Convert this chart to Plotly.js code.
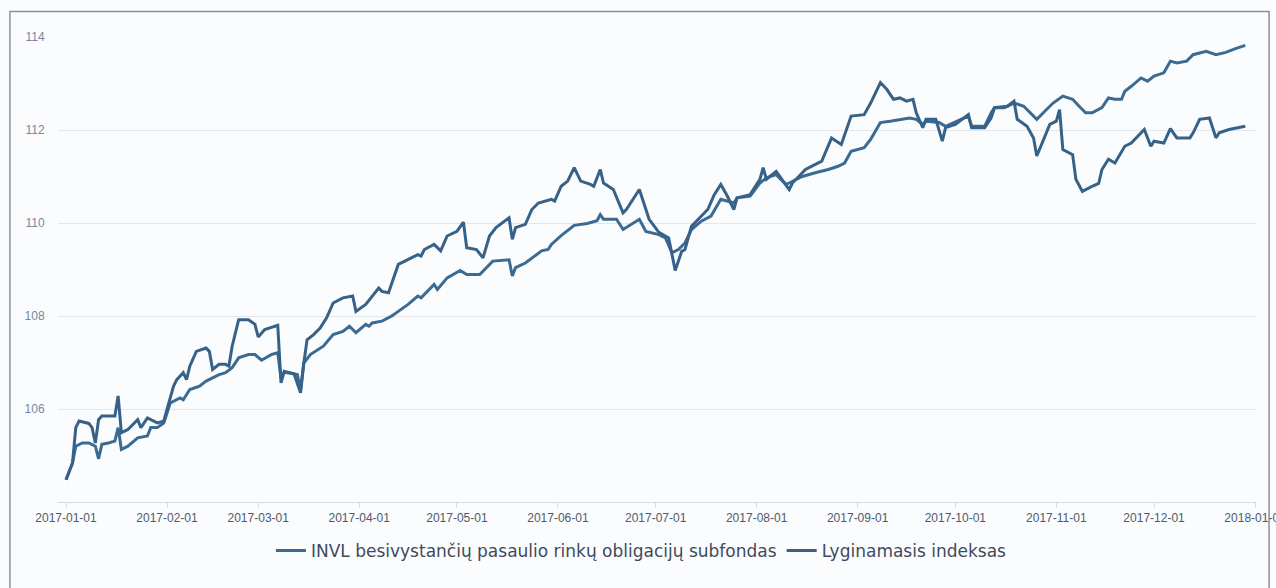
<!DOCTYPE html>
<html>
<head>
<meta charset="utf-8">
<script src="https://cdn.plot.ly/plotly-3.0.1.min.js"></script>
<style>
html,body{margin:0;padding:0;background:#fbfcfd;}
#chart{width:1276px;height:588px;}
</style>
</head>
<body>
<div id="chart"></div>
<script>
// INVL besivystančių pasaulio rinkų obligacijų subfondas
const fundDates = ["2017-01-01","2017-01-03","2017-01-04","2017-01-06","2017-01-08","2017-01-10","2017-01-11","2017-01-12","2017-01-14","2017-01-16","2017-01-17","2017-01-18","2017-01-20","2017-01-23","2017-01-26","2017-01-27","2017-01-29","2017-01-31","2017-02-02","2017-02-05","2017-02-06","2017-02-08","2017-02-11","2017-02-13","2017-02-15","2017-02-17","2017-02-19","2017-02-21","2017-02-23","2017-02-26","2017-02-28","2017-03-02","2017-03-05","2017-03-07","2017-03-08","2017-03-09","2017-03-13","2017-03-14","2017-03-15","2017-03-17","2017-03-21","2017-03-24","2017-03-27","2017-03-29","2017-03-31","2017-04-03","2017-04-04","2017-04-05","2017-04-08","2017-04-11","2017-04-13","2017-04-16","2017-04-19","2017-04-20","2017-04-24","2017-04-25","2017-04-28","2017-05-02","2017-05-04","2017-05-08","2017-05-12","2017-05-17","2017-05-18","2017-05-19","2017-05-22","2017-05-27","2017-05-29","2017-05-30","2017-06-02","2017-06-06","2017-06-10","2017-06-13","2017-06-14","2017-06-15","2017-06-19","2017-06-21","2017-06-26","2017-06-28","2017-07-02","2017-07-04","2017-07-06","2017-07-08","2017-07-10","2017-07-12","2017-07-15","2017-07-18","2017-07-21","2017-07-25","2017-07-26","2017-07-30","2017-08-02","2017-08-04","2017-08-07","2017-08-10","2017-08-11","2017-08-15","2017-08-19","2017-08-23","2017-08-26","2017-08-28","2017-08-30","2017-09-03","2017-09-05","2017-09-08","2017-09-11","2017-09-14","2017-09-17","2017-09-19","2017-09-21","2017-09-22","2017-09-26","2017-09-28","2017-10-05","2017-10-06","2017-10-10","2017-10-12","2017-10-13","2017-10-16","2017-10-19","2017-10-22","2017-10-26","2017-10-29","2017-10-31","2017-11-03","2017-11-06","2017-11-08","2017-11-10","2017-11-12","2017-11-15","2017-11-17","2017-11-19","2017-11-21","2017-11-22","2017-11-24","2017-11-27","2017-11-29","2017-12-01","2017-12-04","2017-12-06","2017-12-08","2017-12-11","2017-12-13","2017-12-17","2017-12-20","2017-12-23","2017-12-26","2017-12-29"];
const fundValues = [104.48,104.84,105.20,105.27,105.27,105.20,104.93,105.24,105.27,105.31,105.60,105.13,105.20,105.38,105.42,105.60,105.60,105.70,106.13,106.24,106.20,106.42,106.49,106.60,106.67,106.74,106.78,106.89,107.10,107.17,107.17,107.05,107.17,107.21,106.67,106.79,106.74,106.42,106.99,107.17,107.35,107.60,107.67,107.78,107.64,107.82,107.78,107.85,107.89,108.00,108.10,108.25,108.43,108.39,108.68,108.57,108.82,108.98,108.89,108.89,109.18,109.21,108.86,109.04,109.14,109.40,109.43,109.54,109.73,109.95,109.99,110.05,110.18,110.08,110.08,109.86,110.08,109.82,109.75,109.68,109.36,109.43,109.57,109.86,110.04,110.15,110.51,110.43,110.54,110.58,110.86,110.97,111.04,110.83,110.86,111.00,111.08,111.15,111.22,111.29,111.54,111.62,111.80,112.16,112.19,112.23,112.26,112.23,112.12,112.19,112.16,112.08,112.30,112.08,112.08,112.37,112.48,112.48,112.58,112.51,112.23,112.44,112.58,112.73,112.66,112.51,112.37,112.37,112.48,112.69,112.66,112.66,112.83,112.94,113.12,113.05,113.16,113.23,113.48,113.44,113.48,113.62,113.69,113.62,113.67,113.75,113.82];

// Lyginamasis indeksas
const indexDates = ["2017-01-01","2017-01-03","2017-01-04","2017-01-05","2017-01-08","2017-01-09","2017-01-10","2017-01-11","2017-01-12","2017-01-16","2017-01-17","2017-01-18","2017-01-20","2017-01-23","2017-01-24","2017-01-26","2017-01-29","2017-01-31","2017-02-01","2017-02-03","2017-02-04","2017-02-06","2017-02-07","2017-02-08","2017-02-10","2017-02-13","2017-02-14","2017-02-15","2017-02-17","2017-02-19","2017-02-20","2017-02-21","2017-02-23","2017-02-26","2017-02-28","2017-03-01","2017-03-03","2017-03-07","2017-03-08","2017-03-09","2017-03-12","2017-03-14","2017-03-15","2017-03-16","2017-03-18","2017-03-20","2017-03-22","2017-03-24","2017-03-27","2017-03-30","2017-03-31","2017-04-03","2017-04-07","2017-04-08","2017-04-10","2017-04-13","2017-04-17","2017-04-19","2017-04-20","2017-04-21","2017-04-24","2017-04-26","2017-04-28","2017-05-01","2017-05-03","2017-05-04","2017-05-07","2017-05-09","2017-05-11","2017-05-13","2017-05-17","2017-05-18","2017-05-19","2017-05-22","2017-05-24","2017-05-26","2017-05-30","2017-05-31","2017-06-02","2017-06-04","2017-06-06","2017-06-08","2017-06-11","2017-06-12","2017-06-14","2017-06-15","2017-06-18","2017-06-21","2017-06-22","2017-06-26","2017-06-29","2017-07-02","2017-07-05","2017-07-07","2017-07-09","2017-07-10","2017-07-12","2017-07-15","2017-07-17","2017-07-19","2017-07-21","2017-07-23","2017-07-25","2017-07-26","2017-07-30","2017-08-02","2017-08-03","2017-08-04","2017-08-07","2017-08-11","2017-08-12","2017-08-16","2017-08-19","2017-08-21","2017-08-24","2017-08-27","2017-08-30","2017-09-03","2017-09-05","2017-09-08","2017-09-10","2017-09-12","2017-09-14","2017-09-16","2017-09-18","2017-09-19","2017-09-21","2017-09-22","2017-09-25","2017-09-27","2017-09-28","2017-10-01","2017-10-05","2017-10-06","2017-10-10","2017-10-12","2017-10-13","2017-10-17","2017-10-19","2017-10-20","2017-10-23","2017-10-25","2017-10-26","2017-10-28","2017-10-30","2017-11-01","2017-11-02","2017-11-03","2017-11-06","2017-11-07","2017-11-09","2017-11-12","2017-11-14","2017-11-15","2017-11-17","2017-11-19","2017-11-22","2017-11-24","2017-11-28","2017-11-30","2017-12-01","2017-12-04","2017-12-06","2017-12-08","2017-12-12","2017-12-13","2017-12-15","2017-12-18","2017-12-20","2017-12-21","2017-12-24","2017-12-29"];
const indexValues = [104.48,104.84,105.60,105.74,105.69,105.60,105.27,105.77,105.85,105.85,106.28,105.49,105.56,105.77,105.60,105.81,105.70,105.74,105.99,106.49,106.63,106.78,106.63,106.92,107.24,107.31,107.24,106.85,106.96,106.96,106.92,107.35,107.92,107.92,107.82,107.55,107.71,107.80,106.56,106.81,106.76,106.35,106.99,107.49,107.60,107.74,107.96,108.28,108.39,108.43,108.10,108.25,108.60,108.53,108.50,109.11,109.25,109.32,109.29,109.43,109.54,109.40,109.72,109.82,110.02,109.47,109.43,109.25,109.72,109.90,110.11,109.65,109.90,109.97,110.29,110.43,110.51,110.47,110.79,110.90,111.19,110.90,110.83,110.79,111.15,110.86,110.72,110.22,110.29,110.72,110.08,109.80,109.68,108.98,109.39,109.43,109.93,110.15,110.29,110.61,110.83,110.58,110.29,110.54,110.61,110.94,111.19,110.94,111.11,110.72,110.86,111.15,111.26,111.33,111.83,111.69,112.30,112.33,112.58,113.02,112.87,112.66,112.69,112.62,112.66,112.37,112.05,112.23,112.23,111.76,112.05,112.12,112.33,112.05,112.05,112.26,112.48,112.51,112.62,112.23,112.08,111.83,111.44,111.80,112.12,112.19,112.44,111.58,111.47,110.94,110.68,110.79,110.85,111.15,111.37,111.29,111.65,111.72,112.01,111.65,111.76,111.72,112.03,111.83,111.83,111.94,112.23,112.26,111.83,111.94,112.01,112.08];

const yTicks = [106, 108, 110, 112, 114];
const seriesNames = ["INVL besivystančių pasaulio rinkų obligacijų subfondas", "Lyginamasis indeksas"];

const traces = [
  {x: fundDates, y: fundValues, name: seriesNames[0], type: 'scatter', mode: 'lines',
   line: {color: '#3b6b93', width: 3}},
  {x: indexDates, y: indexValues, name: seriesNames[1], type: 'scatter', mode: 'lines',
   line: {color: '#36628a', width: 3}}
];

const layout = {
  width: 1276, height: 588,
  margin: {l: 58, r: 20, t: 37, b: 86},
  paper_bgcolor: '#fbfcfd',
  plot_bgcolor: '#fbfcfd',
  showlegend: true,
  legend: {orientation: 'h', x: 0.487, xanchor: 'center', y: -0.105, yanchor: 'middle',
    font: {family: 'DejaVu Sans, sans-serif', size: 17, color: '#3e4a5e'},
    bgcolor: 'rgba(0,0,0,0)', itemwidth: 30, tracegroupgap: 0},
  xaxis: {
    type: 'date',
    range: ['2016-12-29 13:00', '2018-01-01 07:00'],
    tick0: '2017-01-01', dtick: 'M1', tickformat: '%Y-%m-%d',
    ticklabeloverflow: 'allow',
    showgrid: false, zeroline: false,
    showline: true, linecolor: '#d6dbe3', linewidth: 1,
    ticks: 'outside', ticklen: 5, tickcolor: '#d6dbe3',
    tickfont: {family: 'Liberation Sans, Arial, sans-serif', size: 12, color: '#4f5a6c'}
  },
  yaxis: {
    range: [104, 114],
    tickvals: yTicks,
    showgrid: true, gridcolor: '#e3e6eb', gridwidth: 1,
    zeroline: false, showline: false,
    ticks: 'outside', ticklen: 10, tickcolor: 'rgba(0,0,0,0)',
    tickfont: {family: 'Liberation Sans, Arial, sans-serif', size: 12, color: '#7786a3'}
  },
  shapes: [
    {type: 'rect', xref: 'paper', yref: 'paper',
     x0: -0.0401, x1: 1.0109, y0: -0.25, y1: 1.0549,
     line: {color: '#8c8f94', width: 1.5}, fillcolor: 'rgba(0,0,0,0)', layer: 'below'}
  ]
};

Plotly.newPlot('chart', traces, layout, {displayModeBar: false, staticPlot: true});
</script>
</body>
</html>
